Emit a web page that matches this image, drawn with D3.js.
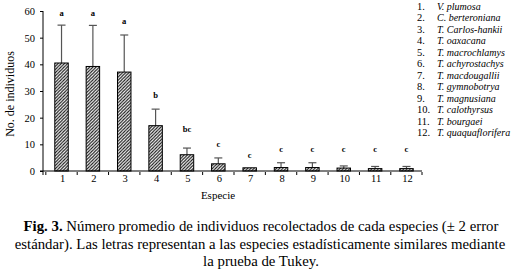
<!DOCTYPE html>
<html>
<head>
<meta charset="utf-8">
<script src="https://cdn.jsdelivr.net/npm/d3@7"></script>
<style>
  body { margin: 0; background: #fff; }
  svg text { font-family: "Liberation Serif", "DejaVu Serif", serif !important; }
</style>
</head>
<body>
<div id="chart"></div>
<script>
// data
var especies = ["1", "2", "3", "4", "5", "6", "7", "8", "9", "10", "11", "12"];
var promedio = [40.5, 39.2, 37.1, 17, 6.1, 2.7, 1.2, 1.3, 1.3, 1.1, 0.9, 0.9];
var errorSup = [54.7, 54.6, 51, 23.2, 8.6, 4.9, 1.2, 3.1, 3.1, 1.9, 1.7, 1.7];
var letras = ["a", "a", "a", "b", "bc", "c", "c", "c", "c", "c", "c", "c"];
var letraY = [58, 58, 55, 27.5, 14.5, 9, 5, 7, 7, 7, 7, 7];
var nombres = ["V. plumosa", "C. berteroniana", "T. Carlos-hankii", "T. oaxacana",
  "T. macrochlamys", "T. achyrostachys", "T. macdougallii", "T. gymnobotrya",
  "T. magnusiana", "T. calothyrsus", "T. bourgaei", "T. quaquaflorifera"];
var yTicks = [0, 10, 20, 30, 40, 50, 60];

var width = 522, height = 278;
var serif = "Liberation Serif";

var svg = d3.select("#chart").append("svg")
  .attr("width", width)
  .attr("height", height);

svg.append("rect").attr("width", width).attr("height", height).attr("fill", "#fff");

// hatch pattern
var defs = svg.append("defs");
defs.append("pattern")
  .attr("id", "hatch")
  .attr("patternUnits", "userSpaceOnUse")
  .attr("width", 3.2)
  .attr("height", 3.2)
  .append("path")
  .attr("d", "M-1,1 l2,-2 M0,3.2 l3.2,-3.2 M2.2,4.2 l2,-2")
  .attr("stroke", "#111")
  .attr("stroke-width", 1.1);

var x = d3.scaleBand()
  .domain(especies)
  .range([46, 422])
  .paddingInner(0.57)
  .paddingOuter(0.28);

var y = d3.scaleLinear()
  .domain([0, 60])
  .range([171, 11]);

// axes
var yAxis = svg.append("g")
  .attr("transform", "translate(43,0)")
  .call(d3.axisLeft(y).tickValues(yTicks).tickSize(3).tickSizeOuter(0));
yAxis.attr("font-family", serif);
yAxis.select(".domain").attr("d", "M0,11V175");
yAxis.selectAll("text").attr("font-size", 10.5).attr("x", -8);

var xAxis = svg.append("g")
  .attr("transform", "translate(0,171)")
  .attr("font-family", serif);
xAxis.append("line")
  .attr("x1", 40).attr("x2", 422)
  .attr("stroke", "#000");
xAxis.selectAll(".tick")
  .data(especies)
  .enter()
  .append("line")
  .attr("x1", (d) => x(d) - x.step() * x.paddingInner() / 2)
  .attr("x2", (d) => x(d) - x.step() * x.paddingInner() / 2)
  .attr("y1", 1)
  .attr("y2", 4)
  .attr("stroke", "#000");
xAxis.append("line")
  .attr("x1", 422).attr("x2", 422).attr("y1", 1).attr("y2", 4)
  .attr("stroke", "#000");
xAxis.selectAll(".lbl")
  .data(especies)
  .enter()
  .append("text")
  .attr("x", (d) => x(d) + x.bandwidth() / 2 + 1)
  .attr("y", 11)
  .attr("text-anchor", "middle")
  .attr("font-size", 10.5)
  .text((d) => d);

// bars
var datos = especies.map((d, i) => ({ k: d, v: promedio[i], e: errorSup[i], l: letras[i], ly: letraY[i] }));

svg.selectAll(".err")
  .data(datos)
  .enter()
  .append("line")
  .attr("x1", (d) => x(d.k) + x.bandwidth() / 2)
  .attr("x2", (d) => x(d.k) + x.bandwidth() / 2)
  .attr("y1", (d) => y(d.v))
  .attr("y2", (d) => y(d.e))
  .attr("stroke", "#555")
  .attr("stroke-width", 1.2);

svg.selectAll(".cap")
  .data(datos.filter((d) => d.e > d.v))
  .enter()
  .append("line")
  .attr("x1", (d) => x(d.k) + x.bandwidth() / 2 - 4)
  .attr("x2", (d) => x(d.k) + x.bandwidth() / 2 + 4)
  .attr("y1", (d) => y(d.e))
  .attr("y2", (d) => y(d.e))
  .attr("stroke", "#555")
  .attr("stroke-width", 1.2);

svg.selectAll(".bar")
  .data(datos)
  .enter()
  .append("rect")
  .attr("x", (d) => x(d.k))
  .attr("y", (d) => y(d.v))
  .attr("width", x.bandwidth())
  .attr("height", (d) => y(0) - y(d.v))
  .attr("fill", "url(#hatch)")
  .attr("stroke", "#000")
  .attr("stroke-width", 1);

svg.selectAll(".letra")
  .data(datos)
  .enter()
  .append("text")
  .attr("x", (d) => x(d.k) + x.bandwidth() / 2)
  .attr("y", (d) => y(d.ly))
  .attr("text-anchor", "middle")
  .attr("font-family", serif)
  .attr("font-size", 8.5)
  .attr("font-weight", "bold")
  .text((d) => d.l);

// axis titles
svg.append("text")
  .attr("transform", "translate(14,94) rotate(-90)")
  .attr("text-anchor", "middle")
  .attr("font-family", serif)
  .attr("font-size", 12)
  .text("No. de individuos");

svg.append("text")
  .attr("x", 218)
  .attr("y", 199)
  .attr("text-anchor", "middle")
  .attr("font-family", serif)
  .attr("font-size", 11)
  .text("Especie");

// legend
var legend = svg.selectAll(".legend")
  .data(nombres)
  .enter()
  .append("g")
  .attr("font-family", serif)
  .attr("transform", (d, i) => "translate(417," + (10 + i * 11.45) + ")");

legend.append("text")
  .attr("font-size", 10.5)
  .text((d, i) => (i + 1) + ".");

legend.append("text")
  .attr("x", 20)
  .attr("font-size", 10)
  .attr("font-style", "italic")
  .text((d) => d);

// caption
var caption = svg.append("text")
  .attr("text-anchor", "middle")
  .attr("font-family", serif)
  .attr("font-size", 14.8);

var l1 = caption.append("tspan").attr("x", 261).attr("y", 231);
l1.append("tspan").attr("font-weight", "bold").text("Fig. 3.");
l1.append("tspan").text(" Número promedio de individuos recolectados de cada especies (± 2 error");
caption.append("tspan").attr("x", 260).attr("y", 249)
  .text("estándar). Las letras representan a las especies estadísticamente similares mediante");
caption.append("tspan").attr("x", 261).attr("y", 266)
  .text("la prueba de Tukey.");
</script>
</body>
</html>
